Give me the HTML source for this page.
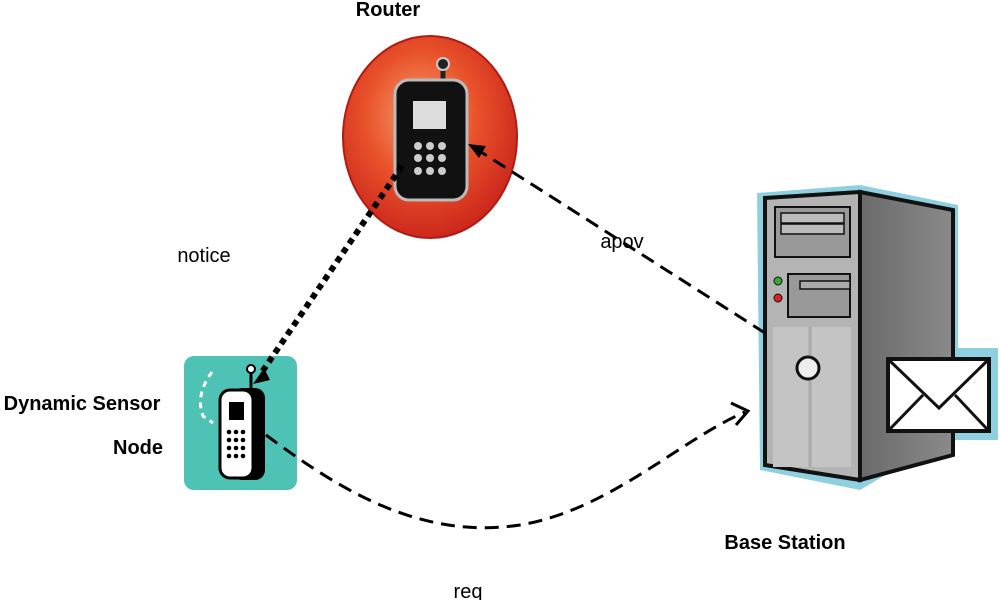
<!DOCTYPE html>
<html><head><style>html,body{margin:0;padding:0;background:#fff;width:1000px;height:600px;overflow:hidden}</style></head>
<body>
<svg width="1000" height="600" viewBox="0 0 1000 600" xmlns="http://www.w3.org/2000/svg" font-family="Liberation Sans, sans-serif">
<defs>
<radialGradient id="rg" cx="0.45" cy="0.4" r="0.65">
<stop offset="0" stop-color="#f7a070"/><stop offset="0.5" stop-color="#e8512a"/><stop offset="1" stop-color="#c8201a"/>
</radialGradient>
<linearGradient id="side" x1="0" x2="1"><stop offset="0" stop-color="#6a6a6a"/><stop offset="1" stop-color="#8a8a8a"/></linearGradient>
</defs>
<!-- Router -->
<ellipse cx="430" cy="137" rx="87" ry="101" fill="url(#rg)" stroke="#b01c14" stroke-width="2"/>
<line x1="443" y1="62" x2="443" y2="90" stroke="#222" stroke-width="5"/>
<circle cx="443" cy="64" r="6" fill="#222" stroke="#ccc" stroke-width="2"/>
<rect x="395" y="80" width="72" height="120" rx="14" fill="#111" stroke="#bbb" stroke-width="3"/>
<rect x="413" y="101" width="33" height="28" fill="#ddd"/>
<g fill="#ccc">
<circle cx="418" cy="146" r="4"/><circle cx="430" cy="146" r="4"/><circle cx="442" cy="146" r="4"/>
<circle cx="418" cy="158" r="4"/><circle cx="430" cy="158" r="4"/><circle cx="442" cy="158" r="4"/>
<circle cx="418" cy="171" r="4"/><circle cx="430" cy="171" r="4"/><circle cx="442" cy="171" r="4"/>
</g>
<text x="388" y="16" font-size="20" font-weight="bold" text-anchor="middle">Router</text>
<!-- Server -->
<path d="M757 193 L860 185 L958 205 L958 348 L998 348 L998 440 L945 440 L860 490 L760 470 Z" fill="#8fd0e0"/>
<path d="M765 198 L860 192 L860 480 L765 465 Z" fill="#b4b4b4" stroke="#111" stroke-width="4"/>
<path d="M860 192 L953 210 L953 455 L860 480 Z" fill="url(#side)" stroke="#111" stroke-width="4"/>
<rect x="775" y="207" width="75" height="50" fill="#999" stroke="#111" stroke-width="2"/>
<rect x="781" y="213" width="63" height="10" fill="#bbb" stroke="#111" stroke-width="1.5"/>
<rect x="781" y="224" width="63" height="10" fill="#bbb" stroke="#111" stroke-width="1.5"/>
<path d="M788 274 L850 274 L850 317 L788 317 Z" fill="#999" stroke="#111" stroke-width="2"/>
<rect x="800" y="281" width="50" height="8" fill="#aaa" stroke="#111" stroke-width="1.5"/>
<circle cx="778" cy="281" r="4" fill="#3a3" stroke="#111"/>
<circle cx="778" cy="298" r="4" fill="#d22" stroke="#111"/>
<rect x="773" y="327" width="78" height="140" fill="#c4c4c4"/>
<line x1="810" y1="327" x2="810" y2="467" stroke="#aaa" stroke-width="3"/>
<circle cx="808" cy="368" r="11" fill="#eee" stroke="#111" stroke-width="3"/>
<rect x="888" y="359" width="101" height="72" fill="#fff" stroke="#111" stroke-width="4"/>
<polyline points="890,361 939,408 987,361" fill="none" stroke="#111" stroke-width="3"/>
<line x1="890" y1="429" x2="923" y2="395" stroke="#111" stroke-width="3"/>
<line x1="987" y1="429" x2="955" y2="395" stroke="#111" stroke-width="3"/>
<text x="785" y="549" font-size="20" font-weight="bold" text-anchor="middle">Base Station</text>
<!-- Sensor -->
<rect x="184" y="356" width="113" height="134" rx="10" fill="#4dc2b5"/>
<path d="M212 372 Q195 395 203 416 L213 423" fill="none" stroke="#fff" stroke-width="3" stroke-dasharray="6,5"/>
<line x1="251" y1="372" x2="251" y2="392" stroke="#000" stroke-width="3"/>
<circle cx="251" cy="369" r="4" fill="#fff" stroke="#000" stroke-width="2"/>
<rect x="232" y="388" width="33" height="92" rx="10" fill="#000"/>
<rect x="220" y="390" width="33" height="88" rx="10" fill="#fff" stroke="#000" stroke-width="3"/>
<rect x="229" y="402" width="15" height="18" fill="#000"/>
<g fill="#000">
<circle cx="229" cy="432" r="2.3"/><circle cx="236" cy="432" r="2.3"/><circle cx="243" cy="432" r="2.3"/>
<circle cx="229" cy="440" r="2.3"/><circle cx="236" cy="440" r="2.3"/><circle cx="243" cy="440" r="2.3"/>
<circle cx="229" cy="448" r="2.3"/><circle cx="236" cy="448" r="2.3"/><circle cx="243" cy="448" r="2.3"/>
<circle cx="229" cy="456" r="2.3"/><circle cx="236" cy="456" r="2.3"/><circle cx="243" cy="456" r="2.3"/>
</g>
<text x="82" y="410" font-size="20" font-weight="bold" text-anchor="middle">Dynamic Sensor</text>
<text x="138" y="454" font-size="20" font-weight="bold" text-anchor="middle">Node</text>
<!-- Connectors -->
<line x1="402" y1="166" x2="262" y2="372" stroke="#000" stroke-width="6" stroke-dasharray="6,5"/>
<path d="M253 384 L264 368 L270 380 Z" fill="#000"/>
<line x1="765" y1="333" x2="478" y2="150" stroke="#000" stroke-width="3" stroke-dasharray="14,8"/>
<path d="M468 144 L486 146 L479 158 Z" fill="#000"/>
<path d="M266 435 C340 490 420 540 520 525 C610 510 680 440 745 412" fill="none" stroke="#000" stroke-width="3" stroke-dasharray="14,8"/>
<polyline points="731,403 748,411 736,425" fill="none" stroke="#000" stroke-width="3"/>
<text x="204" y="262" font-size="20" text-anchor="middle">notice</text>
<text x="622" y="248" font-size="20" text-anchor="middle">apov</text>
<text x="468" y="598" font-size="20" text-anchor="middle">req</text>
</svg>
</body></html>
